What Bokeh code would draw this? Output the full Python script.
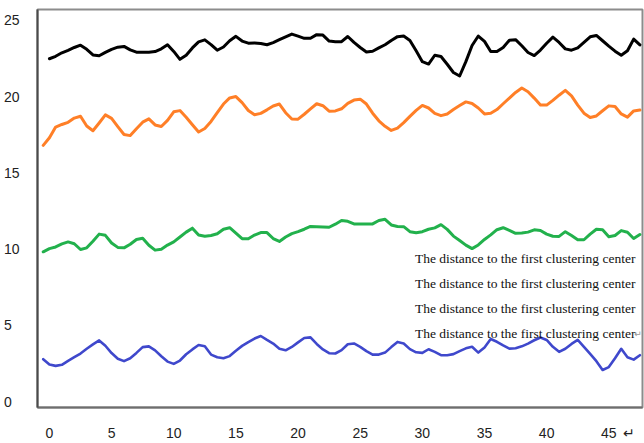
from bokeh.plotting import figure
from bokeh.models import (Range1d, FixedTicker, Label, Legend, LegendItem, ColumnDataSource)
from bokeh.embed import file_html
from bokeh.resources import INLINE

nan = float("nan")

# sample positions (half-steps of the x index)
xs = [k / 2 for k in range(-1, 96)]

black = [nan,
    22.48, 22.64, 22.87, 23.03, 23.22, 23.37, 23.10, 22.73, 22.68, 22.90,
    23.10, 23.24, 23.29, 23.06, 22.91, 22.91, 22.91, 22.95, 23.13, 23.40,
    22.96, 22.44, 22.71, 23.19, 23.59, 23.72, 23.41, 23.04, 23.25, 23.66,
    23.95, 23.64, 23.50, 23.52, 23.48, 23.40, 23.54, 23.73, 23.91, 24.10,
    23.96, 23.82, 23.82, 24.06, 24.03, 23.64, 23.60, 23.60, 23.94, 23.55,
    23.22, 22.92, 22.97, 23.19, 23.40, 23.68, 23.93, 23.97, 23.68, 23.00,
    22.29, 22.13, 22.71, 22.63, 22.12, 21.58, 21.35, 22.29, 23.35, 23.97,
    23.62, 22.96, 22.95, 23.22, 23.69, 23.73, 23.33, 22.89, 22.69, 23.05,
    23.50, 23.90, 23.55, 23.13, 23.04, 23.19, 23.55, 23.92, 24.01, 23.66,
    23.31, 22.98, 22.71, 23.00, 23.77, 23.39]

orange = [16.80,
    17.30, 18.00, 18.17, 18.31, 18.59, 18.71, 18.07, 17.76, 18.27, 18.80,
    18.57, 18.03, 17.51, 17.44, 17.89, 18.32, 18.54, 18.14, 18.04, 18.44,
    19.00, 19.08, 18.64, 18.15, 17.68, 17.91, 18.37, 18.95, 19.51, 19.91,
    20.00, 19.60, 19.09, 18.81, 18.90, 19.13, 19.38, 19.51, 18.94, 18.53,
    18.52, 18.84, 19.19, 19.53, 19.40, 19.04, 19.06, 19.20, 19.55, 19.77,
    19.83, 19.51, 18.91, 18.41, 18.05, 17.78, 17.93, 18.29, 18.70, 19.09,
    19.42, 19.25, 18.90, 18.75, 18.86, 19.15, 19.41, 19.65, 19.55, 19.25,
    18.86, 18.90, 19.15, 19.53, 19.90, 20.27, 20.56, 20.32, 19.90, 19.44,
    19.44, 19.75, 20.09, 20.41, 20.05, 19.44, 18.91, 18.63, 18.73, 19.07,
    19.39, 19.35, 18.86, 18.65, 19.06, 19.12]

green = [9.82,
    10.03, 10.14, 10.34, 10.47, 10.35, 9.97, 10.08, 10.51, 10.98, 10.90,
    10.40, 10.11, 10.08, 10.32, 10.63, 10.71, 10.25, 9.93, 9.99, 10.26,
    10.47, 10.79, 11.11, 11.37, 10.92, 10.84, 10.89, 11.00, 11.30, 11.40,
    11.05, 10.68, 10.68, 10.92, 11.08, 11.08, 10.69, 10.50, 10.79, 11.01,
    11.14, 11.30, 11.48, 11.47, 11.45, 11.43, 11.63, 11.87, 11.82, 11.65,
    11.65, 11.65, 11.65, 11.87, 11.95, 11.58, 11.48, 11.47, 11.14, 11.07,
    11.14, 11.30, 11.39, 11.60, 11.29, 10.85, 10.56, 10.26, 10.03, 10.27,
    10.63, 10.93, 11.27, 11.40, 11.22, 11.03, 11.05, 11.11, 11.26, 11.22,
    10.98, 10.84, 10.83, 11.14, 10.89, 10.61, 10.61, 10.98, 11.30, 11.26,
    10.81, 10.89, 11.21, 11.10, 10.69, 10.95]

blue = [2.78,
    2.43, 2.34, 2.41, 2.67, 2.91, 3.15, 3.46, 3.75, 4.01, 3.66,
    3.18, 2.81, 2.65, 2.84, 3.19, 3.57, 3.62, 3.36, 2.97, 2.62,
    2.47, 2.69, 3.10, 3.42, 3.71, 3.63, 3.08, 2.91, 2.84, 2.98,
    3.33, 3.65, 3.90, 4.13, 4.30, 4.04, 3.80, 3.46, 3.36, 3.58,
    3.88, 4.17, 4.21, 3.78, 3.42, 3.17, 3.15, 3.37, 3.76, 3.81,
    3.59, 3.31, 3.08, 3.08, 3.21, 3.57, 3.91, 3.81, 3.44, 3.23,
    3.19, 3.43, 3.26, 3.04, 3.04, 3.11, 3.31, 3.49, 3.59, 3.21,
    3.55, 4.10, 3.92, 3.68, 3.47, 3.50, 3.62, 3.80, 4.02, 4.20,
    4.04, 3.59, 3.26, 3.46, 3.78, 4.04, 3.59, 3.13, 2.65, 2.07,
    2.26, 2.84, 3.46, 2.91, 2.75, 3.04]

x_ticks = [0, 5, 10, 15, 20, 25, 30, 35, 40, 45]
x_return_mark = 46.6
y_ticks = [0, 5, 10, 15, 20, 25]
legend_labels = ["The distance to the first clustering center"] * 4

line_colors = ["#000000", "#ff7f27", "#22b14c", "#3f48cc"]
legend_colors = ["#000000", "#f79646", "#9bbb59", "#4f81bd"]

p = figure(width=644, height=443, output_backend="svg", toolbar_location=None,
           x_range=Range1d(-0.96, 47.71), y_range=Range1d(-0.39, 25.71),
           min_border_left=35, min_border_right=2, min_border_top=9, min_border_bottom=30)
p.background_fill_color = "white"
p.border_fill_color = "white"
p.grid.visible = False
p.outline_line_color = "#8c8c8c"
p.outline_line_width = 2

tick_font = "Liberation Sans"

# x axis
p.xaxis.ticker = FixedTicker(ticks=x_ticks + [x_return_mark])
p.xaxis.major_label_overrides = {x_return_mark: "↵"}
p.xaxis.major_tick_line_color = None
p.xaxis.minor_tick_line_color = None
p.xaxis.axis_line_color = "#6e6e6e"
p.xaxis.axis_line_width = 2
p.xaxis.major_label_standoff = 11
p.xaxis.major_label_text_font = tick_font
p.xaxis.major_label_text_font_size = "14px"
p.xaxis.major_label_text_color = "#222222"

# y axis (single digits padded so that labels line up at the left)
p.yaxis.ticker = FixedTicker(ticks=y_ticks)
p.yaxis.major_label_overrides = {0: "0\u2007", 5: "5\u2007"}
p.yaxis.major_tick_line_color = None
p.yaxis.minor_tick_line_color = None
p.yaxis.axis_line_color = "#4a4a4a"
p.yaxis.axis_line_width = 2
p.yaxis.major_label_standoff = 12
p.yaxis.major_label_text_font = tick_font
p.yaxis.major_label_text_font_size = "14px"
p.yaxis.major_label_text_color = "#222222"

src = ColumnDataSource(dict(x=xs, black=black, orange=orange, green=green, blue=blue))
for name, c in zip(["black", "orange", "green", "blue"], line_colors):
    p.line("x", name, source=src, line_color=c, line_width=3 if name != "blue" else 2.6,
           line_join="round", line_cap="round")

items = []
for lab, c in zip(legend_labels, legend_colors):
    r = p.line(x=[], y=[], line_color=c, line_width=4)
    items.append(LegendItem(label=lab, renderers=[r]))
legend = Legend(items=items, location=(332, 63), padding=0, margin=0, spacing=5,
                glyph_width=37, glyph_height=20, label_height=20, label_standoff=9,
                border_line_color=None, background_fill_alpha=0,
                label_text_font="Liberation Serif", label_text_font_size="13.5px",
                label_text_color="#111111")
p.add_layout(legend)

p.add_layout(Label(x=47.05, y=4.45, text="↵", text_align="left", text_baseline="middle",
                   text_font="DejaVu Sans", text_font_size="9px", text_color="#999999"))

open("out.html", "w").write(file_html(p, INLINE))
